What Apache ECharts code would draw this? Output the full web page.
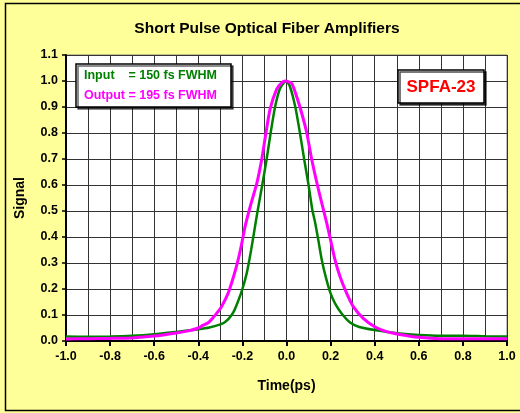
<!DOCTYPE html>
<html>
<head>
<meta charset="utf-8">
<script src="https://cdn.jsdelivr.net/npm/echarts@6/dist/echarts.min.js"></script>
<style>
html,body{margin:0;padding:0;background:#FFFF99;}
#main{width:520px;height:413px;}
</style>
</head>
<body>
<div id="main"></div>
<script>
var titleText = 'Short Pulse Optical Fiber Amplifiers';
var xName = 'Time(ps)';
var yName = 'Signal';
var inputName = 'Input    = 150 fs FWHM';
var outputName = 'Output = 195 fs FWHM';
var tagText = 'SPFA-23';

var inputTime = [-1.0,-0.9,-0.8,-0.7,-0.6,-0.5,-0.45,-0.4,-0.35,-0.3,-0.28,-0.26,-0.24,-0.22,-0.2,-0.18,-0.16,-0.14,-0.13,-0.11,-0.09,-0.072,-0.052,-0.03,-0.01,0.0,0.016,0.04,0.06,0.08,0.1,0.117,0.13,0.145,0.16,0.18,0.2,0.22,0.25,0.29,0.33,0.4,0.45,0.5,0.6,0.7,0.8,0.9,1.0];
var inputSignal = [0.017,0.016,0.017,0.020,0.026,0.035,0.040,0.045,0.052,0.064,0.072,0.088,0.112,0.152,0.200,0.262,0.352,0.455,0.505,0.600,0.700,0.800,0.900,0.970,0.996,0.998,0.978,0.900,0.805,0.700,0.600,0.505,0.455,0.385,0.312,0.240,0.183,0.145,0.106,0.070,0.054,0.042,0.036,0.030,0.023,0.020,0.020,0.018,0.017];

var outputTime = [-1.0,-0.9,-0.8,-0.7,-0.6,-0.5,-0.44,-0.4,-0.38,-0.355,-0.33,-0.317,-0.295,-0.265,-0.24,-0.22,-0.203,-0.188,-0.162,-0.135,-0.112,-0.097,-0.075,-0.045,-0.02,-0.005,0.024,0.046,0.069,0.092,0.114,0.14,0.16,0.182,0.2,0.22,0.243,0.273,0.303,0.348,0.4,0.454,0.507,0.6,0.7,0.8,0.9,1.0];
var outputSignal = [0.008,0.009,0.010,0.012,0.019,0.031,0.040,0.050,0.060,0.070,0.093,0.106,0.132,0.183,0.248,0.310,0.375,0.440,0.525,0.605,0.700,0.780,0.890,0.968,0.995,1.000,0.990,0.940,0.876,0.800,0.700,0.600,0.530,0.455,0.388,0.312,0.247,0.183,0.132,0.087,0.055,0.036,0.026,0.014,0.009,0.009,0.009,0.009];

function pairs(t, v){ return t.map(function(x,i){ return [x, v[i]]; }); }

var FONT = '"Liberation Sans", Arial, sans-serif';
var chart = echarts.init(document.getElementById('main'));
chart.setOption({
  backgroundColor: '#FFFF99',
  animation: false,
  title: {
    text: titleText, left: 262, top: 16, textAlign: 'center',
    textStyle: {fontFamily: FONT, fontWeight: 'bold', fontSize: 15.5, color: '#000'}
  },
  grid: {left: 66, right: 13, top: 55, bottom: 72, show: true, backgroundColor: '#fff', borderColor: '#808080', borderWidth: 1},
  legend: {
    orient: 'vertical', left: 76, top: 64,
    icon: 'none', itemWidth: 0, itemHeight: 12, itemGap: 7,
    backgroundColor: '#fff', borderColor: '#000', borderWidth: 1.5,
    padding: [5, 14, 5, 3],
    shadowColor: 'rgba(0,0,0,0.6)', shadowOffsetX: 2, shadowOffsetY: 2,
    data: [
      {name: inputName, textStyle: {color: '#008000'}},
      {name: outputName, textStyle: {color: '#FF00FF'}}
    ],
    textStyle: {fontFamily: FONT, fontWeight: 'bold', fontSize: 12.5}
  },
  xAxis: {
    type: 'value', min: -1, max: 1, interval: 0.2,
    name: xName, nameLocation: 'middle', nameGap: 38,
    nameTextStyle: {fontFamily: FONT, fontWeight: 'bold', fontSize: 14, color: '#000'},
    axisLine: {show: true, onZero: false, lineStyle: {color: '#000', width: 2}},
    axisTick: {show: true, inside: false, length: 5, lineStyle: {color: '#000', width: 2}},
    minorTick: {show: false, splitNumber: 2},
    axisLabel: {fontFamily: FONT, fontWeight: 'bold', fontSize: 12.5, color: '#000', margin: 9,
      formatter: function(v){ return v.toFixed(1); }},
    splitLine: {show: true, lineStyle: {color: '#333', width: 1}},
    minorSplitLine: {show: true, lineStyle: {color: '#333', width: 1}}
  },
  yAxis: {
    type: 'value', min: 0, max: 1.1, interval: 0.1,
    name: yName, nameLocation: 'middle', nameGap: 39,
    nameTextStyle: {fontFamily: FONT, fontWeight: 'bold', fontSize: 14, color: '#000'},
    axisLine: {show: true, onZero: false, lineStyle: {color: '#000', width: 2}},
    axisTick: {show: true, length: 4, lineStyle: {color: '#000', width: 1.5}},
    axisLabel: {fontFamily: FONT, fontWeight: 'bold', fontSize: 12.5, color: '#000', margin: 8,
      formatter: function(v){ return v.toFixed(1); }},
    splitLine: {show: true, lineStyle: {color: '#333', width: 1}}
  },
  graphic: [
    {type: 'rect', shape: {x: 5.5, y: 3.5, width: 540, height: 407}, style: {fill: 'none', stroke: '#000', lineWidth: 1.5}, silent: true, z: 100},
    {type: 'rect', shape: {x: 398, y: 70, width: 86, height: 33}, style: {fill: '#fff', stroke: '#000', lineWidth: 1.5, shadowColor: 'rgba(0,0,0,0.7)', shadowOffsetX: 2, shadowOffsetY: 2, shadowBlur: 0}, z: 50},
    {type: 'text', x: 441, y: 87, style: {text: tagText, fill: '#FF0000', font: 'bold 17px ' + FONT, align: 'center', verticalAlign: 'middle'}, z: 51}
  ],
  series: [
    {name: inputName, type: 'line', data: pairs(inputTime, inputSignal), showSymbol: false, symbol: 'none', smooth: 0.2,
      lineStyle: {color: '#008000', width: 2.5}, itemStyle: {color: '#008000'}, z: 3},
    {name: outputName, type: 'line', data: pairs(outputTime, outputSignal), showSymbol: false, symbol: 'none', smooth: 0.2,
      lineStyle: {color: '#FF00FF', width: 3}, itemStyle: {color: '#FF00FF'}, z: 4}
  ]
});
</script>
</body>
</html>
